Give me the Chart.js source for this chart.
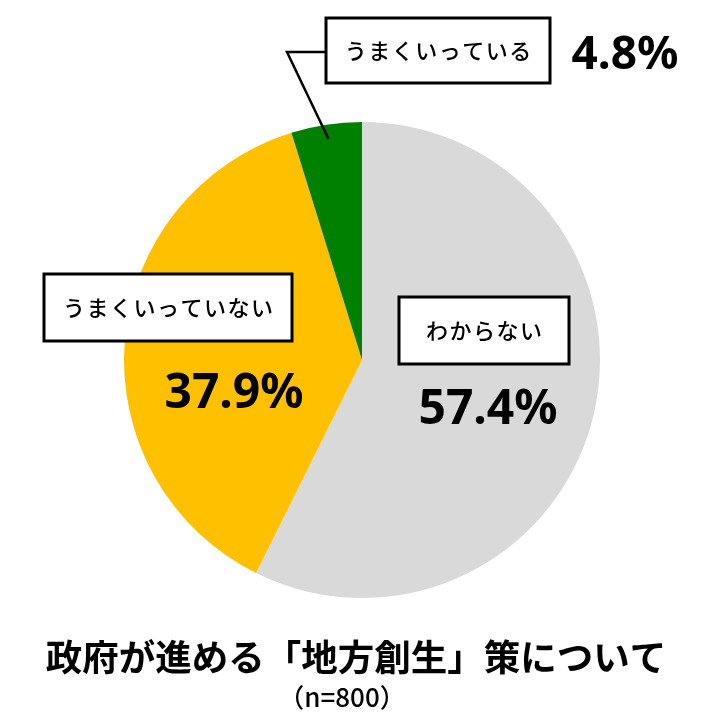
<!DOCTYPE html>
<html><head><meta charset="utf-8">
<script src="https://cdn.jsdelivr.net/npm/chart.js@4.4.1/dist/chart.umd.min.js"></script>
<style>html,body{margin:0;padding:0;background:#fff;}#wrap{width:720px;height:720px;}</style>
</head><body><div id="wrap"><canvas id="c" width="720" height="720"></canvas></div>
<script>
const categories = ["わからない", "うまくいっていない", "うまくいっている"];
const values = [57.4, 37.9, 4.8];
const colors = ["#d9d9d9", "#ffc000", "#008000"];
const titleText = "政府が進める「地方創生」策について";
const subtitleText = "（n=800）";

const JP = '"Noto Sans CJK JP", "Noto Sans", sans-serif';
const NUM = '"Noto Sans", "DejaVu Sans", sans-serif';

// label box placement (annotation layout)
const boxes = [
  {x: 399, y: 297, w: 170, h: 67, px: 488, py: 410, pfont: 48},
  {x: 44, y: 274, w: 248, h: 67, px: 234, py: 394, pfont: 48},
  {x: 326, y: 18, w: 224, h: 65, px: 625, py: 56, pfont: 46}
];

const annot = {
  id: 'annot',
  afterDraw(chart) {
    const ctx = chart.ctx;
    const meta = chart.getDatasetMeta(0);
    ctx.save();
    // leader line for small slice
    const arc = meta.data[2];
    const mid = (arc.startAngle + arc.endAngle) / 2;
    const r = arc.outerRadius * 0.94;
    const ex = arc.x + Math.cos(mid) * r, ey = arc.y + Math.sin(mid) * r;
    ctx.strokeStyle = '#000'; ctx.lineWidth = 2.5;
    ctx.beginPath();
    ctx.moveTo(ex, ey); ctx.lineTo(287, 52); ctx.lineTo(boxes[2].x, 52);
    ctx.stroke();
    boxes.forEach((b, i) => {
      ctx.fillStyle = '#fff';
      ctx.fillRect(b.x, b.y, b.w, b.h);
      ctx.lineWidth = 3; ctx.strokeStyle = '#000';
      ctx.strokeRect(b.x, b.y, b.w, b.h);
      ctx.fillStyle = '#000';
      ctx.textAlign = 'center'; ctx.textBaseline = 'middle';
      ctx.font = '500 22px ' + JP;
      if (ctx.letterSpacing !== undefined) ctx.letterSpacing = '1.5px';
      ctx.fillText(categories[i], b.x + b.w / 2 + 0.75, b.y + b.h / 2);
      if (ctx.letterSpacing !== undefined) ctx.letterSpacing = '0px';
      ctx.font = 'bold ' + b.pfont + 'px ' + NUM;
      ctx.fillText(values[i].toFixed(1) + '%', b.px, b.py);
    });
    ctx.font = 'bold 36.5px ' + JP;
    ctx.fillText(titleText, 356, 657);
    ctx.font = '500 26px ' + JP;
    ctx.fillText(subtitleText, 342, 697);
    ctx.restore();
  }
};

new Chart(document.getElementById('c'), {
  type: 'pie',
  data: {
    labels: categories,
    datasets: [{ data: values, backgroundColor: colors, borderWidth: 0 }]
  },
  options: {
    responsive: false,
    animation: false,
    layout: { padding: { top: 122, bottom: 122, left: 124, right: 120 } },
    plugins: { legend: { display: false }, tooltip: { enabled: false }, title: { display: false } }
  },
  plugins: [annot]
});
</script>
</body></html>
